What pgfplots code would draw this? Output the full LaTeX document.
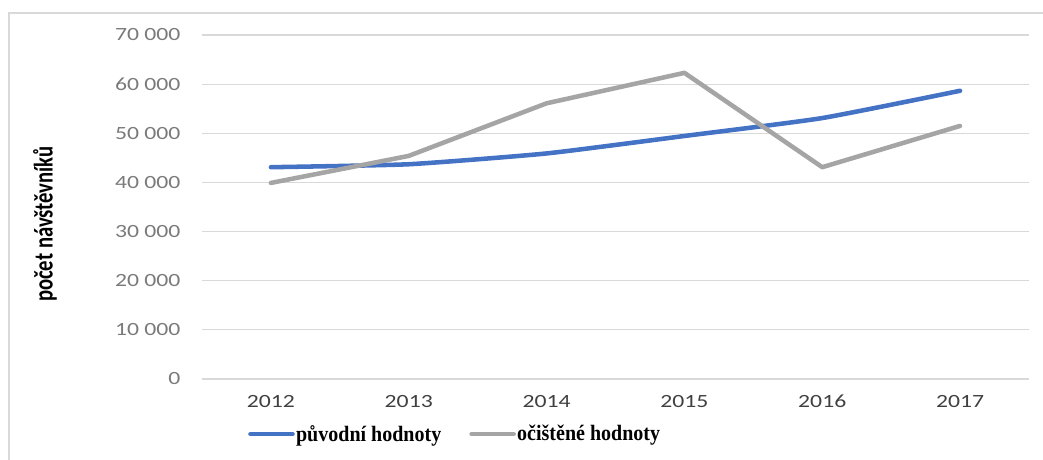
\documentclass[border=0pt]{standalone}
\usepackage{fontspec}
\setmainfont{Carlito}
\newfontfamily\tickfont[FakeStretch=1.27]{Carlito}
\newfontfamily\legfont[FakeStretch=0.91]{Liberation Serif}
\usepackage{pgfplots}
\pgfplotsset{compat=1.18}
\definecolor{cblue}{HTML}{4472C4}
\definecolor{cgray}{HTML}{A5A5A5}
\definecolor{cgrid}{HTML}{D9D9D9}
\definecolor{ylab}{HTML}{7A7A7A}
\definecolor{xlab}{HTML}{404040}
\begin{document}
\begin{tikzpicture}
\begin{axis}[
  at={(0pt,0pt)}, anchor=south west,
  scale only axis,
  width=620.25pt, height=258pt,
  xmin=-0.5, xmax=5.5,
  ymin=0, ymax=70000,
  scaled y ticks=false,
  xtick={0,1,2,3,4,5},
  xticklabels={2012,2013,2014,2015,2016,2017},
  ytick={0,10000,20000,30000,40000,50000,60000,70000},
  yticklabels={0,10 000,20 000,30 000,40 000,50 000,60 000,70 000},
  major tick length=0pt,
  axis line style={draw=none},
  ymajorgrids,
  grid style={cgrid, line width=0.9pt},
  xticklabel style={font=\tickfont\fontsize{14}{17}\selectfont, text=xlab, yshift=-8.5pt},
  yticklabel style={font=\tickfont\fontsize{14}{17}\selectfont, text=ylab, xshift=-12.6pt},
  ylabel={\scalebox{1}[1.3]{počet návštěvníků}},
  ylabel style={at={(axis description cs:-0.18984,0.45058)}, anchor=center, font=\bfseries\fontsize{15.5}{18}\selectfont, text=black},
  legend columns=2,
  legend style={at={(axis description cs:0.0556,-0.160)}, anchor=west, draw=none, fill=none, inner sep=0pt,
    font=\legfont\bfseries\fontsize{16.5}{19}\selectfont,
    nodes={inner sep=1pt},
    /tikz/every even column/.append style={column sep=20pt}},
  legend image code/.code={\draw[#1, line cap=round] (0pt,0pt) -- (31.5pt,0pt);},
]
\addplot[cblue, line width=3.4pt, line cap=round, smooth, tension=0.3] coordinates {
  (0,43100) (1,43700) (2,45900) (3,49450) (4,53100) (5,58650)};
\addlegendentry{původní hodnoty}
\addplot[cgray, line width=3.4pt, line cap=round, line join=round] coordinates {
  (0,39900) (1,45400) (2,56100) (3,62300) (4,43100) (5,51500)};
\addlegendentry{očištěné hodnoty}
\end{axis}
\draw[cgrid, line width=1.2pt] (-144.75pt,-80pt) -- (-144.75pt,274.5pt) -- (700pt,274.5pt);
\pgfresetboundingbox
\useasboundingbox (-151.5pt,-60.75pt) rectangle (630.75pt,284.25pt);
\end{tikzpicture}
\end{document}
